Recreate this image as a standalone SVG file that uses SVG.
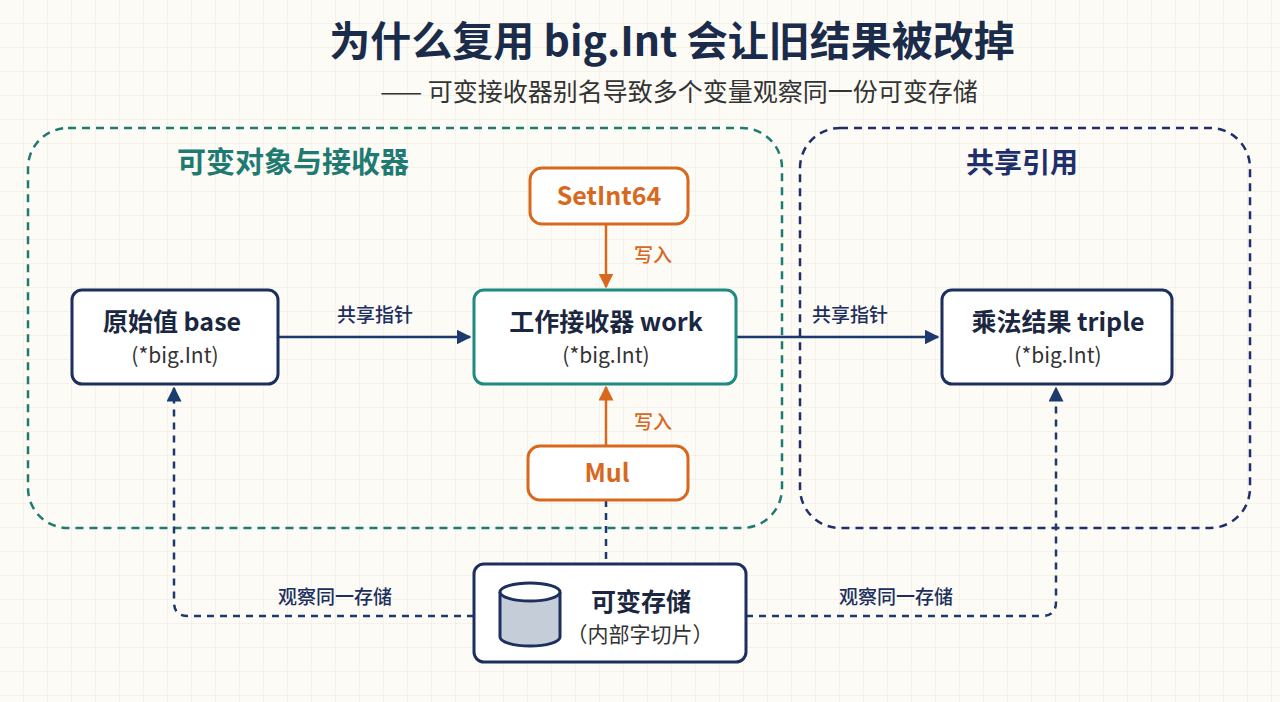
<svg xmlns="http://www.w3.org/2000/svg" width="1280" height="702" viewBox="0 0 1280 702">
<defs>
<pattern id="grid" width="24" height="24" patternUnits="userSpaceOnUse"><path d="M24 0V24H0" fill="none" stroke="#ece8df" stroke-width="1"/></pattern>
<marker id="an" viewBox="0 0 10 10" refX="9" refY="5" markerWidth="6" markerHeight="6" orient="auto"><path d="M0 0L10 5L0 10z" fill="#1c3a6e"/></marker>
<marker id="ao" viewBox="0 0 10 10" refX="9" refY="5" markerWidth="6" markerHeight="6" orient="auto"><path d="M0 0L10 5L0 10z" fill="#d8681e"/></marker>
</defs>
<style>
text{font-family:"Noto Sans CJK SC","Noto Sans",sans-serif;text-anchor:middle}
.box{fill:#fff;stroke:#1c2f5e;stroke-width:3}
.t{font-size:25px;font-weight:bold;fill:#1b2740}
.s{font-size:21px;fill:#333}
.lbl{font-size:19px;fill:#1c2f5e;font-weight:500}
.ol{font-size:19px;fill:#d8681e;font-weight:500}
.nav{fill:none;stroke:#1c3a6e;stroke-width:2.5}
.dash{fill:none;stroke:#1c3a6e;stroke-width:2.5;stroke-dasharray:7 6}
.or{fill:none;stroke:#d8681e;stroke-width:2.5}
</style>
<rect width="1280" height="702" fill="#fcfbf6"/>
<rect width="1280" height="702" fill="url(#grid)"/>
<text x="672" y="56" font-size="41" font-weight="bold" fill="#1b2b4a">为什么复用 big.Int 会让旧结果被改掉</text>
<text x="679" y="101" font-size="25" fill="#333">—— 可变接收器别名导致多个变量观察同一份可变存储</text>
<g id="group-left"><rect x="28" y="128" width="754" height="400" rx="40" fill="none" stroke="#1f7a72" stroke-width="2.5" stroke-dasharray="8 6"/>
<text x="293" y="173" font-size="29" font-weight="bold" fill="#1f7a72">可变对象与接收器</text></g>
<g id="group-right"><rect x="800" y="128" width="450" height="400" rx="40" fill="none" stroke="#1f2f6b" stroke-width="2.5" stroke-dasharray="8 6"/>
<text x="1022" y="173" font-size="28" font-weight="bold" fill="#1f2f6b">共享引用</text></g>
<g id="connectors">
<path class="nav" d="M278 337H470" marker-end="url(#an)"/>
<text class="lbl" x="375" y="322">共享指针</text>
<path class="nav" d="M736 337H938" marker-end="url(#an)"/>
<text class="lbl" x="850" y="322">共享指针</text>
<path class="or" d="M606 224V287" marker-end="url(#ao)"/>
<text class="ol" x="653" y="262">写入</text>
<path class="or" d="M606 446V387" marker-end="url(#ao)"/>
<text class="ol" x="653" y="429">写入</text>
<path class="dash" d="M606 500V564"/>
<path class="dash" d="M474 616H188Q174 616 174 602V388" marker-end="url(#an)"/>
<text class="lbl" x="335" y="604">观察同一存储</text>
<path class="dash" d="M746 616H1042Q1056 616 1056 602V388" marker-end="url(#an)"/>
<text class="lbl" x="896" y="604">观察同一存储</text>
</g>
<g id="base"><rect class="box" x="72" y="290" width="206" height="94" rx="10"/>
<text class="t" x="172" y="331">原始值 base</text><text class="s" x="175" y="363">(*big.Int)</text></g>
<g id="work"><rect class="box" x="474" y="290" width="262" height="94" rx="10" style="stroke:#1f8a80"/>
<text class="t" x="606" y="331">工作接收器 work</text><text class="s" x="606" y="363">(*big.Int)</text></g>
<g id="triple"><rect class="box" x="942" y="290" width="230" height="94" rx="10"/>
<text class="t" x="1058" y="331">乘法结果 triple</text><text class="s" x="1058" y="363">(*big.Int)</text></g>
<g id="setint64"><rect class="box" x="530" y="168" width="158" height="56" rx="12" style="stroke:#d8681e"/>
<text class="t" x="609" y="205" style="fill:#d8681e">SetInt64</text></g>
<g id="mul"><rect class="box" x="528" y="446" width="160" height="54" rx="12" style="stroke:#d8681e"/>
<text class="t" x="607" y="482" style="fill:#d8681e">Mul</text></g>
<g id="storage"><rect class="box" x="474" y="564" width="272" height="98" rx="10"/>
<path d="M500 592V637A30 9 0 0 0 560 637V592" fill="#c4cdd8" stroke="#1c2f5e" stroke-width="3"/>
<ellipse cx="530" cy="592" rx="30" ry="9" fill="#fff" stroke="#1c2f5e" stroke-width="3"/>
<text class="t" x="641" y="611">可变存储</text><text class="s" x="640" y="642">（内部字切片）</text></g>
</svg>
